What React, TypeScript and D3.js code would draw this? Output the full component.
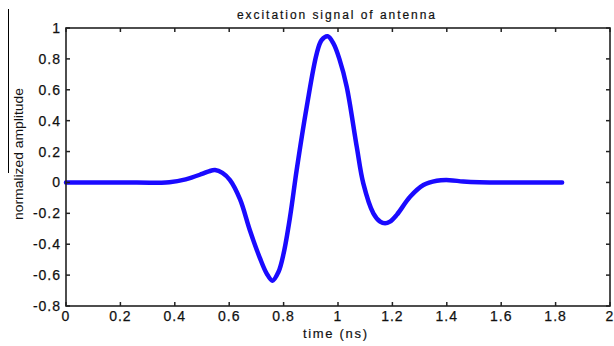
import React from "react";
import * as d3 from "d3";

const timeNs = [0, 0.2, 0.38, 0.44, 0.5, 0.525, 0.548, 0.575, 0.603, 0.64, 0.676, 0.713, 0.738, 0.759, 0.781, 0.8, 0.824, 0.848, 0.885, 0.922, 0.94, 0.962, 0.983, 1.005, 1.032, 1.069, 1.093, 1.13, 1.155, 1.173, 1.191, 1.216, 1.265, 1.314, 1.363, 1.41, 1.46, 1.52, 1.6, 1.824];
const amplitude = [0, 0, 0.002, 0.02, 0.055, 0.072, 0.08, 0.062, 0.015, -0.11, -0.31, -0.49, -0.59, -0.636, -0.58, -0.46, -0.22, 0.08, 0.49, 0.836, 0.922, 0.946, 0.9, 0.8, 0.62, 0.23, -0.006, -0.2, -0.254, -0.265, -0.254, -0.21, -0.093, -0.017, 0.011, 0.015, 0.006, 0.001, 0, 0];
const xTicks = [0, 0.2, 0.4, 0.6, 0.8, 1, 1.2, 1.4, 1.6, 1.8, 2];
const yTicks = [1, 0.8, 0.6, 0.4, 0.2, 0, -0.2, -0.4, -0.6, -0.8];
const title = "excitation signal of antenna";
const xLabel = "time (ns)";
const yLabel = "normalized amplitude";

const W = 614, H = 346;
const L = 66, R = 610, T = 28, B = 306;

export default function App() {
  const x = d3.scaleLinear().domain([0, 2]).range([L, R]);
  const y = d3.scaleLinear().domain([-0.8, 1]).range([B, T]);
  const pts = timeNs.map((t, i) => [t, amplitude[i]] as [number, number]);
  const line = d3.line<[number, number]>().x(d => x(d[0])).y(d => y(d[1])).curve(d3.curveCatmullRom.alpha(0.5));
  const fmt = (v: number) => (v === 0 ? "0" : String(v));
  const axisCol = "#222";
  const font = "'Liberation Sans', Arial, sans-serif";
  return (
    <svg width={W} height={H} style={{ position: "absolute", left: 0, top: 0, background: "#fff" }}>
      <rect x={0} y={0} width={W} height={H} fill="#fff" />
      <line x1={8.5} x2={8.5} y1={9} y2={173} stroke="#000" strokeWidth={1} />
      <path d={line(pts) || ""} fill="none" stroke="#1a0aff" strokeWidth={4.5} strokeLinejoin="round" strokeLinecap="round" />
      <rect x={L} y={T} width={R - L} height={B - T} fill="none" stroke={axisCol} strokeWidth={1.6} />
      {xTicks.map(t => (
        <g key={"x" + t}>
          <line x1={x(t)} x2={x(t)} y1={B} y2={B - 4} stroke={axisCol} strokeWidth={1.5} />
          <line x1={x(t)} x2={x(t)} y1={T} y2={T + 4} stroke={axisCol} strokeWidth={1.5} />
          <text x={x(t)} y={321} textAnchor="middle" fontFamily={font} fontSize={14} letterSpacing={1} fill="#111" stroke="#111" strokeWidth={0.25}>{fmt(t)}</text>
        </g>
      ))}
      {yTicks.map(v => (
        <g key={"y" + v}>
          <line x1={L} x2={L + 4} y1={y(v)} y2={y(v)} stroke={axisCol} strokeWidth={1.5} />
          <line x1={R} x2={R - 4} y1={y(v)} y2={y(v)} stroke={axisCol} strokeWidth={1.5} />
          <text x={61} y={y(v) + 5} textAnchor="end" fontFamily={font} fontSize={14} letterSpacing={1} fill="#111" stroke="#111" strokeWidth={0.25}>{fmt(v)}</text>
        </g>
      ))}
      <text x={336} y={19} textAnchor="middle" fontFamily={font} fontSize={12} textLength={198} lengthAdjust="spacing" fill="#111" stroke="#111" strokeWidth={0.2}>{title}</text>
      <text x={335} y={338} textAnchor="middle" fontFamily={font} fontSize={13} textLength={64} lengthAdjust="spacing" fill="#111" stroke="#111" strokeWidth={0.2}>{xLabel}</text>
      <text transform={`translate(23,154) rotate(-90)`} textAnchor="middle" fontFamily="'Liberation Sans Narrow', 'Liberation Sans', Arial, sans-serif" fontSize={13} textLength={132} lengthAdjust="spacingAndGlyphs" fill="#111">{yLabel}</text>
    </svg>
  );
}
